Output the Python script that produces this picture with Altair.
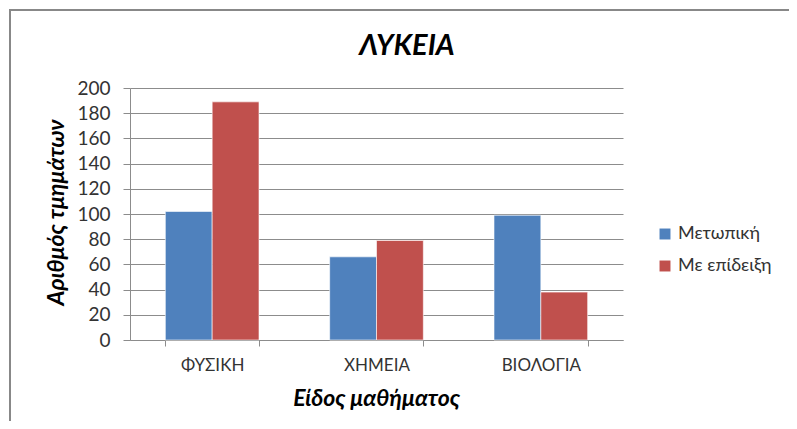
import altair as alt
import pandas as pd

categories = ["ΦΥΣΙΚΗ", "ΧΗΜΕΙΑ", "ΒΙΟΛΟΓΙΑ"]
series_names = ["Μετωπική", "Με επίδειξη"]
metopiki = [102, 66, 99]
me_epideixi = [189, 79, 38]
colors = ["#4F81BD", "#C0504D"]
chart_title = "ΛΥΚΕΙΑ"

rows = []
for c, a, b in zip(categories, metopiki, me_epideixi):
    rows.append({"cat": c, "series": series_names[0], "value": a})
    rows.append({"cat": c, "series": series_names[1], "value": b})
df = pd.DataFrame(rows)

FONT = "Lato"

bars = alt.Chart(df).mark_bar(stroke="white", strokeWidth=0.6).encode(
    x=alt.X("cat:N", sort=categories,
            scale=alt.Scale(paddingInner=0.43, paddingOuter=0.215),
            axis=alt.Axis(title="Είδος μαθήματος", labelAngle=0, tickBand="extent",
                          tickSize=6, tickColor="#8c8c8c", domainColor="#8c8c8c",
                          labelFont=FONT, labelFontSize=17, labelColor="#333333",
                          labelPadding=11,
                          titleFont=FONT, titleFontSize=23, titleFontWeight="bold",
                          titleFontStyle="italic", titleColor="#000000",
                          titleY=58, titleBaseline="middle", titleX=246)),
    xOffset=alt.XOffset("series:N", sort=series_names),
    y=alt.Y("value:Q", scale=alt.Scale(domain=[0, 200], nice=False),
            axis=alt.Axis(title="Αριθμός τμημάτων", values=list(range(0, 201, 20)),
                          tickSize=7, tickColor="#8c8c8c", domainColor="#8c8c8c",
                          gridColor="#8c8c8c", gridWidth=1,
                          labelFont=FONT, labelFontSize=19, labelColor="#333333",
                          labelPadding=13,
                          titleFont=FONT, titleFontSize=23, titleFontWeight="bold",
                          titleFontStyle="italic", titleColor="#000000",
                          titleAngle=-90, titleX=-74, titleY=124,
                          titleAlign="center", titleBaseline="middle")),
    color=alt.Color("series:N", sort=series_names,
                    scale=alt.Scale(domain=series_names, range=colors),
                    legend=alt.Legend(title=None, orient="none", legendX=526, legendY=137,
                                      symbolType="square", symbolSize=120,
                                      symbolStrokeWidth=0,
                                      labelFont=FONT, labelFontSize=18,
                                      labelColor="#333333", rowPadding=14,
                                      labelOffset=4)),
)

frame = alt.Chart(alt.Data(values=[{"a": 1}])).mark_rect(
    fill=None, stroke="#888888", strokeWidth=2
).encode(
    x=alt.value(-120), x2=alt.value(700), y=alt.value(-78), y2=alt.value(420)
)

title = alt.Chart(alt.Data(values=[{"t": chart_title}])).mark_text(
    font=FONT, fontSize=29, fontWeight="bold", fontStyle="italic",
    color="#000000", align="center", baseline="middle"
).encode(text="t:N", x=alt.value(277), y=alt.value(-42))

chart = alt.layer(frame, title, bars).properties(
    width=493, height=252,
    padding={"left": 122, "top": 80, "right": 166, "bottom": 81},
    autosize=alt.AutoSizeParams(type="none"),
).configure_view(stroke=None).configure_axis(grid=False).configure_axisY(grid=True)

chart.save("out.html", embed_options={"renderer": "svg", "actions": False})
